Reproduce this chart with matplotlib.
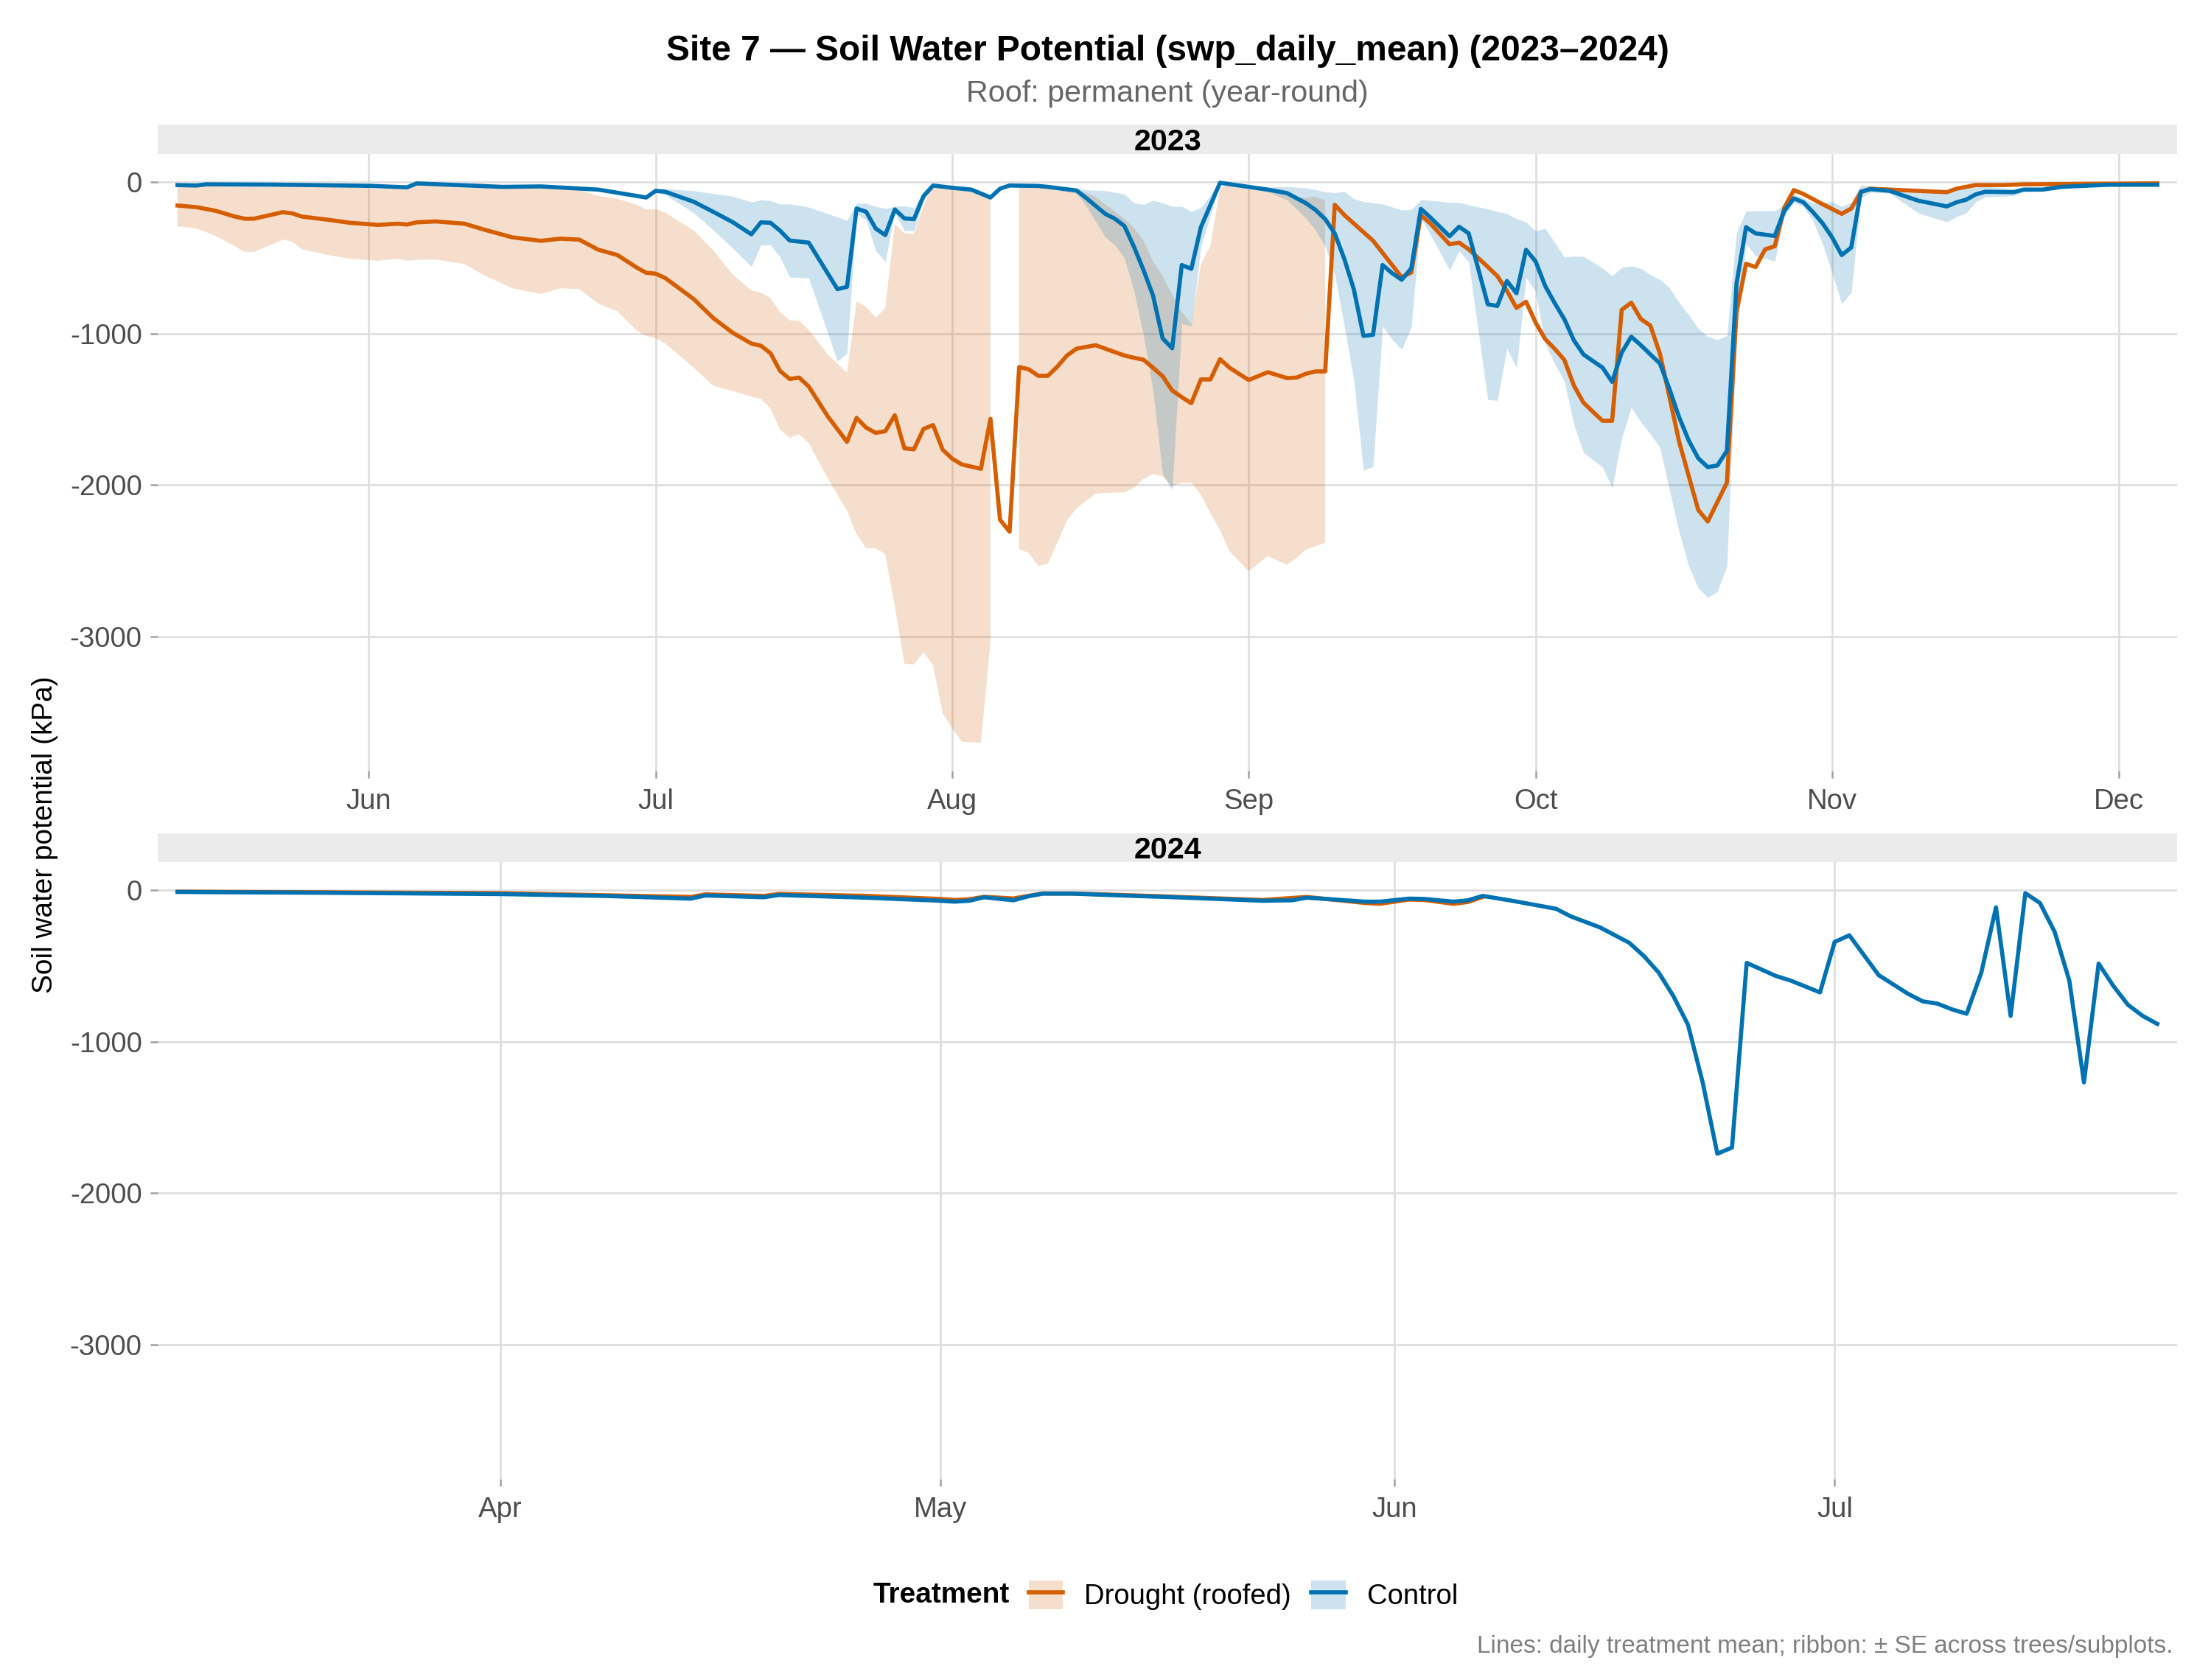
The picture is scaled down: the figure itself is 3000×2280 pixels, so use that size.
import numpy as np
import pandas as pd
import matplotlib
matplotlib.use("Agg")
import matplotlib.pyplot as plt
import matplotlib.dates as mdates
from matplotlib.patches import Patch
from matplotlib.lines import Line2D

plt.rcParams["font.family"] = ["Liberation Sans", "DejaVu Sans"]
plt.rcParams["axes.unicode_minus"] = False

# ---- data ----
# 2023, Control: daily treatment mean and SE (kPa)
ctl23_dates = ["05-12", "05-14", "05-15", "05-22", "06-01", "06-05", "06-06", "06-15", "06-19", "06-25", "06-30",
               "07-01", "07-02", "07-05", "07-07", "07-09", "07-11", "07-12", "07-13", "07-14", "07-15", "07-17",
               "07-20", "07-21", "07-22", "07-23", "07-24", "07-25", "07-26", "07-27", "07-28", "07-29", "07-30",
               "08-01", "08-03", "08-05", "08-06", "08-07", "08-10", "08-11", "08-14", "08-15", "08-17", "08-18",
               "08-19", "08-20", "08-21", "08-22", "08-23", "08-24", "08-25", "08-26", "08-27", "08-29",
               "09-01", "09-03", "09-05", "09-07", "09-08", "09-09", "09-10", "09-11", "09-12", "09-13", "09-14",
               "09-15", "09-16", "09-17", "09-18", "09-19", "09-20", "09-22", "09-23", "09-24", "09-26", "09-27",
               "09-28", "09-29", "09-30",
               "10-01", "10-02", "10-03", "10-04", "10-05", "10-06", "10-07", "10-08", "10-09", "10-10", "10-11",
               "10-12", "10-13", "10-14", "10-15", "10-16", "10-17", "10-18", "10-19", "10-20", "10-21", "10-22",
               "10-23", "10-24", "10-26", "10-27", "10-28", "10-29", "10-30", "10-31",
               "11-01", "11-02", "11-03", "11-04", "11-05", "11-07", "11-10", "11-13", "11-14", "11-15", "11-16",
               "11-17", "11-20", "11-21", "11-23", "11-25", "11-28", "11-30", "12-05"]
ctl23_mean = [-20, -23, -15, -17, -25, -35, -9, -32, -29, -50, -102,
              -58, -64, -131, -196, -263, -345, -266, -269, -321, -386, -400,
              -707, -692, -175, -196, -307, -350, -181, -240, -245, -93, -23,
              -38, -50, -102, -44, -23, -26, -32, -56, -105, -210, -242,
              -290, -427, -581, -750, -1032, -1097, -548, -573, -298, -5,
              -32, -50, -73, -140, -185, -245, -340, -508, -710, -1016, -1008,
              -548, -602, -645, -569, -177, -234, -358, -295, -339, -807, -818,
              -653, -734, -447,
              -524, -686, -800, -905, -1045, -1138, -1182, -1225, -1319, -1126, -1021,
              -1077, -1138, -1198, -1367, -1552, -1705, -1823, -1882, -1871, -1774, -672,
              -298, -339, -356, -190, -108, -134, -199, -272,
              -365, -482, -432, -64, -47, -58, -123, -161, -134, -117, -82,
              -64, -67, -50, -50, -32, -23, -18, -18]
ctl23_se = [5, 5, 4, 4, 5, 5, 4, 5, 5, 8, 12,
            10, 20, 73, 120, 170, 213, 149, 146, 175, 242, 234,
            476, 438, 35, 55, 146, 175, 20, 82, 76, 29, 10,
            10, 15, 15, 10, 8, 10, 10, 18, 53, 153, 174,
            210, 290, 432, 629, 895, 936, 387, 379, 129, 5,
            10, 15, 44, 100, 135, 180, 270, 445, 600, 887, 871,
            403, 437, 461, 387, 60, 113, 223, 160, 188, 629, 623,
            444, 492, 182,
            200, 380, 400, 410, 555, 647, 652, 657, 700, 563, 467,
            507, 526, 555, 668, 757, 829, 857, 861, 832, 760, 336,
            108, 149, 166, 40, 25, 30, 58, 137,
            234, 321, 298, 44, 20, 15, 82, 102, 95, 88, 50,
            35, 23, 15, 10, 8, 5, 4, 4]

# 2023, Drought (roofed): SE missing where only one sensor reported
dr23_dates = ["05-12", "05-14", "05-16", "05-18", "05-19", "05-20", "05-22", "05-23", "05-24", "05-25", "05-28",
              "05-30", "06-02", "06-04", "06-05", "06-06", "06-08", "06-11", "06-13", "06-16", "06-19", "06-21",
              "06-23", "06-25", "06-27", "06-29", "06-30",
              "07-01", "07-02", "07-05", "07-07", "07-09", "07-11", "07-12", "07-13", "07-14", "07-15", "07-16",
              "07-17", "07-19", "07-21", "07-22", "07-23", "07-24", "07-25", "07-26", "07-27", "07-28", "07-29",
              "07-30", "07-31",
              "08-01", "08-02", "08-04", "08-05", "08-06", "08-07", "08-08", "08-09", "08-10", "08-11", "08-12",
              "08-13", "08-14", "08-16", "08-17", "08-19", "08-20", "08-21", "08-22", "08-23", "08-24", "08-25",
              "08-26", "08-27", "08-28", "08-29", "08-30",
              "09-01", "09-03", "09-05", "09-06", "09-07", "09-08", "09-09", "09-10", "09-11", "09-14", "09-17",
              "09-18", "09-19", "09-20", "09-22", "09-23", "09-24", "09-26", "09-27", "09-28", "09-29", "09-30",
              "10-01", "10-02", "10-03", "10-04", "10-05", "10-06", "10-07", "10-08", "10-09", "10-10", "10-11",
              "10-12", "10-13", "10-14", "10-15", "10-16", "10-17", "10-18", "10-19", "10-20", "10-21", "10-22",
              "10-23", "10-24", "10-25", "10-26", "10-27", "10-28", "10-29", "10-31",
              "11-02", "11-03", "11-04", "11-05", "11-13", "11-14", "11-16", "11-19", "11-21", "12-05"]
dr23_mean = [-155, -166, -190, -228, -242, -242, -213, -199, -207, -228, -251,
             -269, -283, -275, -280, -266, -260, -275, -313, -365, -388, -374,
             -380, -447, -482, -564, -599,
             -605, -634, -774, -897, -993, -1066, -1081, -1130, -1247, -1300, -1291,
             -1350, -1548, -1715, -1557, -1621, -1656, -1645, -1539, -1758, -1764, -1630,
             -1604, -1767,
             -1826, -1864, -1893, -1563, -2229, -2308, -1221, -1236, -1279, -1279, -1218,
             -1145, -1100, -1077, -1100, -1145, -1160, -1173, -1226, -1282, -1376, -1420,
             -1460, -1303, -1303, -1169, -1226,
             -1307, -1255, -1294, -1291, -1265, -1250, -1250, -150, -218, -387, -629,
             -597, -218, -274, -411, -400, -444, -560, -621, -718, -831, -790,
             -928, -1037, -1101, -1174, -1343, -1456, -1517, -1576, -1576, -844, -796,
             -904, -948, -1134, -1420, -1713, -1939, -2164, -2241, -2113, -1984, -860,
             -540, -561, -444, -424, -169, -53, -79, -146,
             -210, -175, -67, -44, -67, -44, -20, -20, -15, -9]
dr23_se = [137, 140, 166, 196, 219, 219, 196, 181, 187, 216, 234,
           237, 237, 231, 240, 248, 251, 266, 301, 336, 351, 327,
           327, 356, 371, 415, 418,
           426, 432, 453, 447, 386, 351, 351, 365, 388, 388, 374,
           374, 409, 456, 768, 797, 760, 812, 1262, 1422, 1420, 1475,
           1586, 1738,
           1782, 1831, 1808, 1475, None, None, 1203, 1212, 1256, 1240, 1161,
           1089, 1053, 979, 952, 903, 858, 787, 702, 661, 632, 565,
           524, 761, 882, 1129, 1212,
           1262, 1215, 1233, 1192, 1160, 1154, 1130, None, None, None, None,
           None, None, None, None, None, None, None, None, None, None, None,
           None, None, None, None, None, None, None, None, None, None, None,
           None, None, None, None, None, None, None, None, None, None, None,
           None, None, None, None, None, None, None, None,
           None, None, None, None, None, None, None, None, None, None]

# 2024: means only (no ribbon)
ctl24_dates = ["03-10", "03-21", "04-01", "04-08", "04-14", "04-15", "04-19", "04-20", "04-26",
               "05-01", "05-02", "05-03", "05-04", "05-06", "05-07", "05-08", "05-10", "05-16", "05-17",
               "05-23", "05-25", "05-26", "05-27", "05-30", "05-31",
               "06-02", "06-03", "06-05", "06-06", "06-07", "06-09", "06-12", "06-13", "06-15", "06-17",
               "06-18", "06-19", "06-20", "06-21", "06-22", "06-23", "06-24", "06-25", "06-27", "06-28", "06-30",
               "07-01", "07-02", "07-04", "07-06", "07-07", "07-08", "07-09", "07-10", "07-11", "07-12",
               "07-13", "07-14", "07-15", "07-16", "07-17", "07-18", "07-19", "07-20", "07-21", "07-22", "07-23"]
ctl24_mean = [-12, -18, -26, -38, -56, -35, -47, -32, -50,
              -70, -76, -70, -47, -67, -41, -23, -23, -44, -47,
              -70, -67, -50, -56, -76, -76,
              -56, -58, -76, -67, -38, -70, -123, -173, -246, -348,
              -436, -544, -699, -889, -1269, -1740, -1699, -480, -567, -597, -675,
              -342, -298, -561, -684, -734, -749, -787, -816, -544, -114,
              -830, -20, -85, -275, -597, -1269, -485, -632, -757, -830, -883]

dr24_dates = ["03-10", "04-01", "04-14", "04-15", "04-19", "04-20", "04-26", "05-01", "05-02", "05-03",
              "05-04", "05-06", "05-07", "05-08", "05-10", "05-16", "05-17", "05-23", "05-26", "05-27",
              "05-30", "05-31", "06-02", "06-03", "06-05", "06-06", "06-07"]
dr24_mean = [-10, -20, -45, -28, -38, -25, -38, -58, -65, -60,
             -44, -55, -38, -22, -22, -40, -44, -65, -45, -55,
             -85, -90, -62, -65, -90, -78, -45]

years = ["2023", "2024"]
labels = ["Drought (roofed)", "Control"]
DR, CT = "#D55E00", "#0072B2"


def to_dates(year, mmdd):
    return pd.to_datetime([year + "-" + s for s in mmdd]).to_numpy()


series = {
    "2023": [(to_dates("2023", dr23_dates), np.array(dr23_mean, float), np.array(dr23_se, dtype=float), DR),
             (to_dates("2023", ctl23_dates), np.array(ctl23_mean, float), np.array(ctl23_se, dtype=float), CT)],
    "2024": [(to_dates("2024", dr24_dates), np.array(dr24_mean, float), None, DR),
             (to_dates("2024", ctl24_dates), np.array(ctl24_mean, float), None, CT)],
}

# shared y range, ggplot-style 5% expansion
lows, highs = [], []
for yr in years:
    for d, m, se, c in series[yr]:
        lo = m if se is None else m - np.nan_to_num(se)
        hi = m if se is None else m + np.nan_to_num(se)
        lows.append(np.min(lo))
        highs.append(np.max(hi))
ymin, ymax = min(lows), max(highs)
ypad = 0.05 * (ymax - ymin)

# ---- layout (pixel boxes in a 3000x2280 canvas) ----
W, H = 3000, 2280


def box(x0, y0, x1, y1):
    return [x0 / W, 1 - y1 / H, (x1 - x0) / W, (y1 - y0) / H]


fig = plt.figure(figsize=(10, 7.6), dpi=300)
panels = {"2023": (169, 209, 1046), "2024": (1131, 1170, 2007)}
PL, PR = 214, 2954

for yr in years:
    st, top, bot = panels[yr]
    strip = fig.add_axes(box(PL, st, PR, top))
    strip.set_facecolor("#EBEBEB")
    strip.set_xticks([])
    strip.set_yticks([])
    for s in strip.spines.values():
        s.set_visible(False)
    strip.text(0.5, 0.13, yr, transform=strip.transAxes, ha="center", va="baseline",
               fontsize=9.9, fontweight="bold")

    ax = fig.add_axes(box(PL, top, PR, bot))
    for d, m, se, c in series[yr]:
        if se is not None:
            ax.fill_between(d, m - se, m + se, color=c, alpha=0.2, linewidth=0)
    for d, m, se, c in series[yr]:
        ax.plot(d, m, color=c, linewidth=1.35, solid_joinstyle="round")

    alld = np.concatenate([s[0] for s in series[yr]])
    x0, x1 = alld.min(), alld.max()
    xpad = (x1 - x0) * 0.01
    ax.set_xlim(x0 - xpad, x1 + xpad)
    ax.set_ylim(ymin - ypad, ymax + ypad)
    ax.set_yticks([0, -1000, -2000, -3000])
    ax.xaxis.set_major_locator(mdates.MonthLocator())
    ax.xaxis.set_major_formatter(mdates.DateFormatter("%b"))
    ax.grid(True, color="#DEDEDE", linewidth=0.65)
    ax.set_axisbelow(True)
    for s in ax.spines.values():
        s.set_visible(False)
    ax.tick_params(length=2.5, width=0.6, color="#A0A0A0", labelcolor="#4D4D4D", labelsize=9.2)
    ax.tick_params(axis="y", pad=2.6)
    ax.tick_params(axis="x", pad=3.3)

cx = (PL + PR) / 2 / W
fig.text(cx, 1 - 81.7 / H, "Site 7 \u2014 Soil Water Potential (swp_daily_mean) (2023\u20132024)",
         ha="center", va="baseline", fontsize=11.5, fontweight="bold")
fig.text(cx, 1 - 138.3 / H, "Roof: permanent (year-round)", ha="center", va="baseline",
         fontsize=9.9, color="#666666")
fig.text(61 / W, 1 - 1133 / H, "Soil water potential (kPa)", rotation=90, ha="center", va="center",
         fontsize=9.3)

handles = [(Patch(facecolor=c, alpha=0.2, edgecolor="none"), Line2D([], [], color=c, linewidth=1.35))
           for c in (DR, CT)]
fig.legend(handles, labels, ncol=2, loc="center left", bbox_to_anchor=(1396 / W, 1 - 2165 / H),
           frameon=False, fontsize=9.2, handlelength=1.21, handleheight=1.19, handletextpad=0.75,
           columnspacing=0.72, borderpad=0, borderaxespad=0)
fig.text(1185 / W, 1 - 2165 / H, "Treatment", ha="left", va="center", fontsize=9.3, fontweight="bold")
fig.text(2948 / W, 1 - 2242.7 / H, "Lines: daily treatment mean; ribbon: \u00b1 SE across trees/subplots.",
         ha="right", va="baseline", fontsize=8, color="#7F7F7F")

fig.savefig("out.png", dpi=300, facecolor="white")
